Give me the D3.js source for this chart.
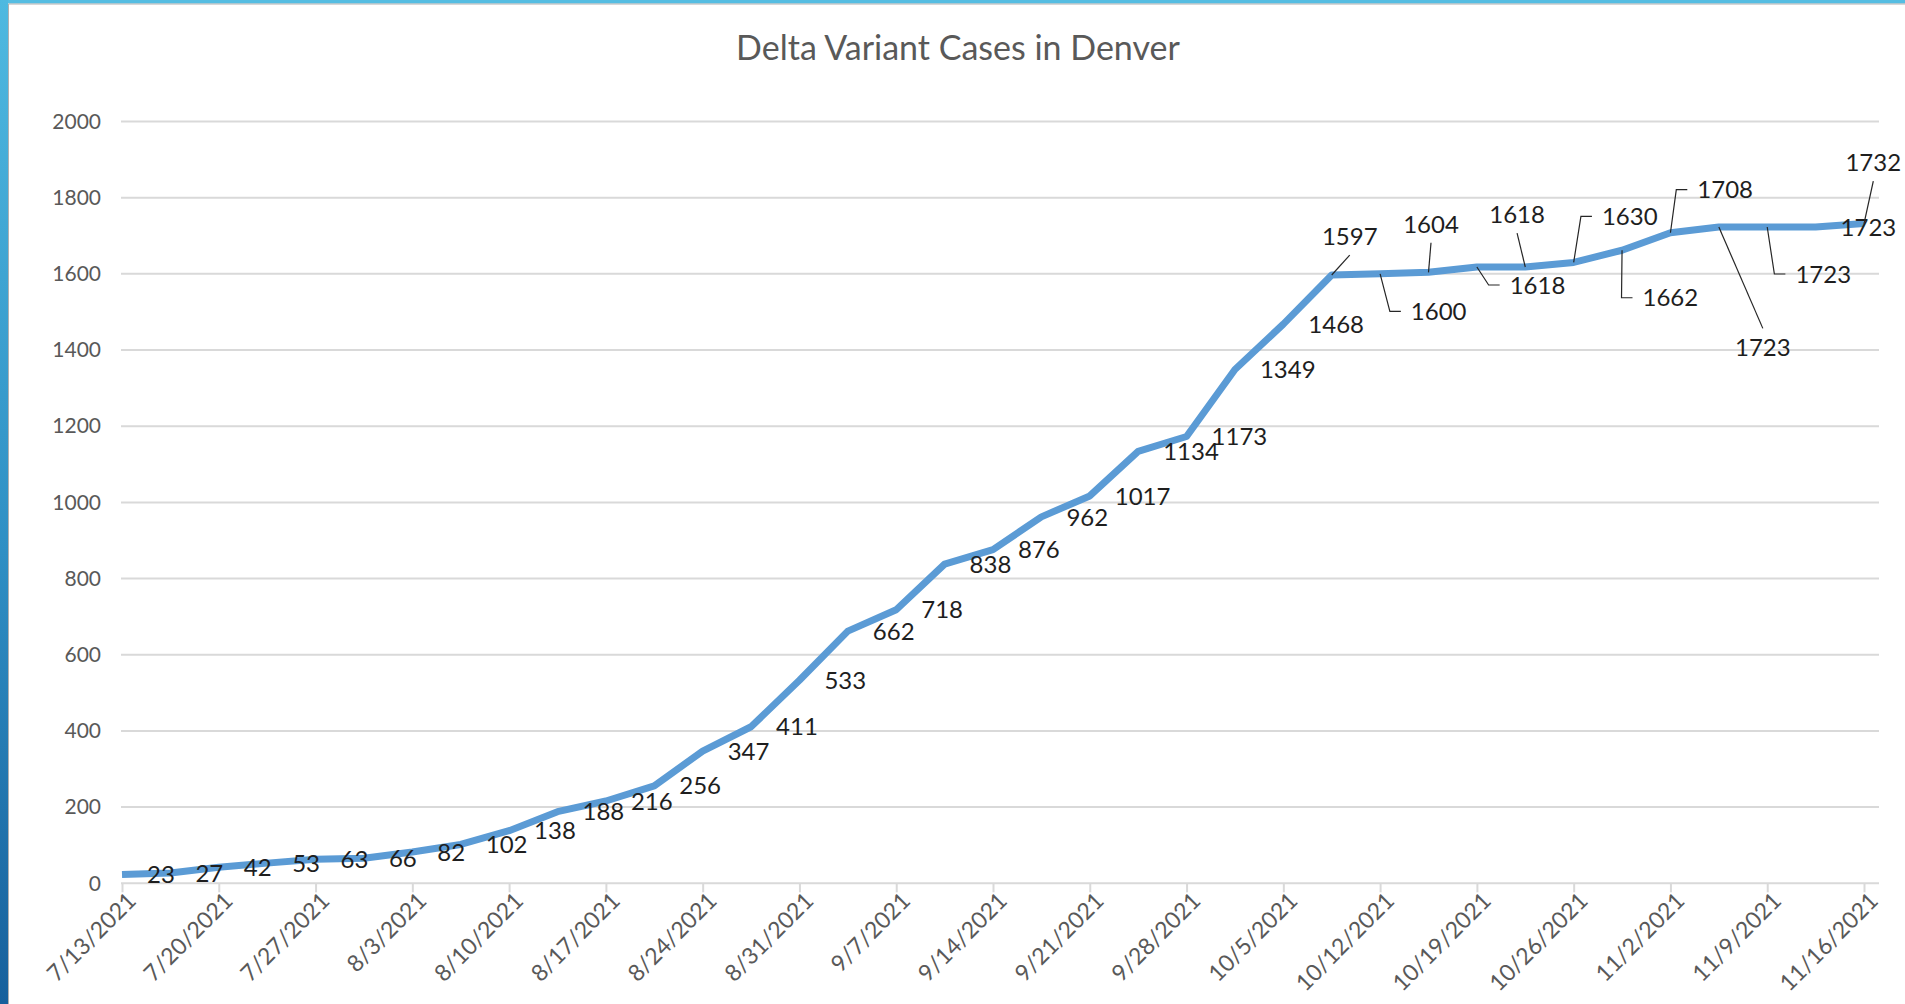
<!DOCTYPE html>
<html>
<head>
<meta charset="utf-8">
<script src="https://cdn.jsdelivr.net/npm/d3@7"></script>
<style>
  html, body { margin: 0; padding: 0; background: #fff; }
  svg { display: block; }
</style>
</head>
<body>
<script>
// ---------------- data ----------------
const title = "Delta Variant Cases in Denver";
const categories = ["7/13/2021","7/16/2021","7/20/2021","7/23/2021","7/27/2021","7/30/2021",
  "8/3/2021","8/6/2021","8/10/2021","8/13/2021","8/17/2021","8/20/2021","8/24/2021","8/27/2021","8/31/2021",
  "9/3/2021","9/7/2021","9/10/2021","9/14/2021","9/17/2021","9/21/2021","9/24/2021","9/28/2021",
  "10/1/2021","10/5/2021","10/8/2021","10/12/2021","10/15/2021","10/19/2021","10/22/2021","10/26/2021","10/29/2021",
  "11/2/2021","11/5/2021","11/9/2021","11/12/2021","11/16/2021"];
const cases = [23,27,42,53,63,66,82,102,138,188,216,256,347,411,533,662,718,838,876,962,
  1017,1134,1173,1349,1468,1597,1600,1604,1618,1618,1630,1662,1708,1723,1723,1723,1732];
const xTickLabels = ["7/13/2021","7/20/2021","7/27/2021","8/3/2021","8/10/2021","8/17/2021","8/24/2021",
  "8/31/2021","9/7/2021","9/14/2021","9/21/2021","9/28/2021","10/5/2021","10/12/2021","10/19/2021",
  "10/26/2021","11/2/2021","11/9/2021","11/16/2021"];
const yTicks = [0,200,400,600,800,1000,1200,1400,1600,1800,2000];

// -------- label layout (manually moved labels, offsets in px) --------
const movedLabels = {
  25: {dx: 18,   dy: -38.6, leader: "direct"},
  26: {dx: 58.6, dy: 37.6,  leader: "elbow"},
  27: {dx: 2.5,  dy: -48.3, leader: "direct"},
  28: {dx: 60.6, dy: 18,    leader: "elbow"},
  29: {dx: -8.2, dy: -52.6, leader: "direct"},
  30: {dx: 56.1, dy: -46,   leader: "elbow"},
  31: {dx: 48.3, dy: 47.5,  leader: "elbow"},
  32: {dx: 54.7, dy: -43,   leader: "elbow"},
  33: {dx: 44,   dy: 120,   leader: "direct"},
  34: {dx: 56,   dy: 47,    leader: "elbow"},
  36: {dx: 9.3,  dy: -61,   leader: "direct"}
};

// ---------------- chart ----------------
const W = 1905, H = 1004;
const FONT = "Lato, 'Open Sans', sans-serif";
const LABEL_SIZE = 24;
const svg = d3.select("body").append("svg").attr("width", W).attr("height", H);
svg.append("rect").attr("width", W).attr("height", H).attr("fill", "#fff");

// window frame
const defs = svg.append("defs");
const grad = defs.append("linearGradient").attr("id", "leftband").attr("x1", 0).attr("y1", 0).attr("x2", 0).attr("y2", 1);
grad.append("stop").attr("offset", "0%").attr("stop-color", "#4fb9e0");
grad.append("stop").attr("offset", "55%").attr("stop-color", "#2f8fc4");
grad.append("stop").attr("offset", "100%").attr("stop-color", "#17609c");
svg.append("rect").attr("x", 0).attr("y", 0).attr("width", W).attr("height", 3.5).attr("fill", "#55bde2");
svg.append("rect").attr("x", 0).attr("y", 0).attr("width", 8).attr("height", H).attr("fill", "url(#leftband)");
svg.append("line").attr("x1", 8.5).attr("x2", W).attr("y1", 4).attr("y2", 4).attr("stroke", "#b0b0b0").attr("stroke-width", 1);
svg.append("line").attr("x1", 8.5).attr("x2", 8.5).attr("y1", 4).attr("y2", H).attr("stroke", "#b0b0b0").attr("stroke-width", 1);

const x = d3.scalePoint().domain(categories).range([122, 1864]);
const y = d3.scaleLinear().domain([0, 2000]).range([883.3, 121.5]);
const gridX0 = 121, gridX1 = 1879;

// title
svg.append("text").attr("x", 958).attr("y", 60).attr("text-anchor", "middle")
  .attr("font-family", FONT).attr("font-size", 34).attr("fill", "#595959").text(title);

// gridlines
svg.append("g").selectAll("line").data(yTicks.filter(d => d > 0)).join("line")
  .attr("x1", gridX0).attr("x2", gridX1)
  .attr("y1", d => y(d)).attr("y2", d => y(d))
  .attr("stroke", "#d9d9d9").attr("stroke-width", 2);

// y axis labels
const yAxis = svg.append("g").attr("transform", `translate(${gridX0},0)`)
  .call(d3.axisLeft(y).tickValues(yTicks).tickSize(0).tickPadding(20).tickFormat(d3.format("d")));
yAxis.select(".domain").remove();
yAxis.selectAll("text").attr("font-family", FONT).attr("font-size", 21).attr("fill", "#595959");

// x axis
const xAxis = svg.append("g").attr("transform", `translate(0,${y(0)})`)
  .call(d3.axisBottom(x).tickValues(xTickLabels).tickSize(9).tickSizeOuter(0));
xAxis.select(".domain").attr("d", `M${gridX0},0H${gridX1}`).attr("stroke", "#d9d9d9").attr("stroke-width", 2);
xAxis.selectAll(".tick line").attr("stroke", "#d9d9d9").attr("stroke-width", 2);
xAxis.selectAll(".tick text")
  .attr("font-family", FONT).attr("font-size", 23).attr("fill", "#595959")
  .attr("text-anchor", "end").attr("y", 0).attr("dy", 0)
  .attr("transform", "translate(15,19) rotate(-45)");

// line
const pts = categories.map((c, i) => [x(c), y(cases[i])]);
svg.append("path").datum(pts)
  .attr("d", d3.line())
  .attr("fill", "none").attr("stroke", "#5b9bd5").attr("stroke-width", 7)
  .attr("stroke-linejoin", "round").attr("stroke-linecap", "butt");

// data labels
const lblG = svg.append("g");
const leaderG = svg.append("g");
const halfH = 0.36 * LABEL_SIZE;
categories.forEach((c, i) => {
  const px = x(c), py = y(cases[i]);
  const t = lblG.append("text").attr("font-family", FONT).attr("font-size", LABEL_SIZE)
    .attr("fill", "#1e1e1e").attr("dy", "0.36em").text(cases[i]);
  const m = movedLabels[i];
  if (!m) {
    t.attr("x", px + 25).attr("y", py).attr("text-anchor", "start");
  } else {
    const cx = px + m.dx, cy = py + m.dy;
    t.attr("x", cx).attr("y", cy).attr("text-anchor", "middle");
    const w = t.node().getComputedTextLength();
    let path;
    if (m.leader === "direct") {
      const ey = m.dy < 0 ? cy + halfH + 10 : cy - halfH - 10;
      path = [[px, py], [cx, ey]];
    } else {
      const left = cx - w / 2 - 10;
      path = [[px, py], [left - 11, cy], [left, cy]];
    }
    leaderG.append("path").attr("d", d3.line()(path))
      .attr("fill", "none").attr("stroke", "#262626").attr("stroke-width", 1.2);
  }
});
</script>
</body>
</html>
